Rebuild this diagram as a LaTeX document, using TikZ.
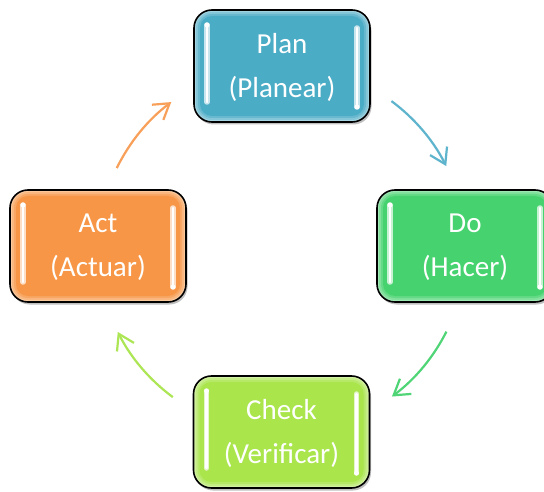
\documentclass[tikz,border=0pt]{standalone}
\usepackage{fontspec}
\setmainfont{Carlito}
\usetikzlibrary{arrows.meta,shadows,calc}

\definecolor{planC}{HTML}{4BACC6}
\definecolor{doC}{HTML}{46D36F}
\definecolor{checkC}{HTML}{A9E54B}
\definecolor{actC}{HTML}{F79646}

\tikzset{
  % glossy rounded stage box: light rim, inner fill, two vertical highlights
  stage/.style={
    rounded corners=18pt, draw=black, line width=1.6pt,
    minimum width=176pt, minimum height=112pt,
    fill=#1!50!white, text=white, align=center,
    font=\fontsize{29}{44}\selectfont, text depth=2pt,
    drop shadow={shadow xshift=1.5pt, shadow yshift=-2.5pt, opacity=.25, fill=black},
    path picture={
      \foreach \ins/\shade in {2/68,4/84,6/100}{
        \fill[#1!\shade!white, rounded corners=18pt-\ins pt]
          ([shift={(\ins pt,-\ins pt)}]path picture bounding box.north west)
          rectangle ([shift={(-\ins pt,\ins pt)}]path picture bounding box.south east);
      }
      % left highlight, dot at the top
      \draw[#1!30!white, line width=5.5pt, line cap=round]
        ([shift={(13pt,-15pt)}]path picture bounding box.north west) --
        ([shift={(13pt,20pt)}]path picture bounding box.south west);
      \draw[white, line width=2.2pt, line cap=round]
        ([shift={(13pt,-15pt)}]path picture bounding box.north west) --
        ([shift={(13pt,20pt)}]path picture bounding box.south west);
      \fill[white] ([shift={(13pt,-15pt)}]path picture bounding box.north west) circle (2.5pt);
      % right highlight, dot at the bottom
      \draw[#1!30!white, line width=5.5pt, line cap=round]
        ([shift={(-13pt,-18pt)}]path picture bounding box.north east) --
        ([shift={(-13pt,15pt)}]path picture bounding box.south east);
      \draw[white, line width=2.2pt, line cap=round]
        ([shift={(-13pt,-18pt)}]path picture bounding box.north east) --
        ([shift={(-13pt,15pt)}]path picture bounding box.south east);
      \fill[white] ([shift={(-13pt,15pt)}]path picture bounding box.south east) circle (2.5pt);
    }
  },
  cyclearrow/.style={line width=2.2pt, draw=#1,
    -{Straight Barb[length=15pt, width=19pt, line width=2.2pt]}}
}

\begin{document}
\begin{tikzpicture}[x=1pt, y=1pt]
  \path[use as bounding box, clip] (0,0) rectangle (544,491);
  \fill[white] (0,0) rectangle (544,491);

  % the four stages of the cycle
  \node[stage=planC]  (plan)  at (282,425)   {Plan\\(Planear)};
  \node[stage=doC]    (do)    at (465,245)   {Do\\(Hacer)};
  \node[stage=checkC] (check) at (281.5,59)  {Check\\(Verificar)};
  \node[stage=actC]   (act)   at (98,245)    {Act\\(Actuar)};

  % curved arrows on a common circle around the centre
  \coordinate (c) at (282,242);
  \coordinate (pd) at ($(c)+(53.5:184pt)$);
  \coordinate (dc) at ($(c)+(-26.7:184pt)$);
  \coordinate (ca) at ($(c)+(-126.4:184pt)$);
  \coordinate (ap) at ($(c)+(153.9:184pt)$);

  \draw[cyclearrow=planC!90!white]  (pd) arc[start angle=53.5,   end angle=26.8,   radius=184pt];
  \draw[cyclearrow=doC!95!white]    (dc) arc[start angle=-26.7,  end angle=-53.3,  radius=184pt];
  \draw[cyclearrow=checkC!95!white] (ca) arc[start angle=-126.4, end angle=-153.2, radius=184pt];
  \draw[cyclearrow=actC!90!white]   (ap) arc[start angle=153.9,  end angle=127,    radius=184pt];
\end{tikzpicture}
\end{document}
